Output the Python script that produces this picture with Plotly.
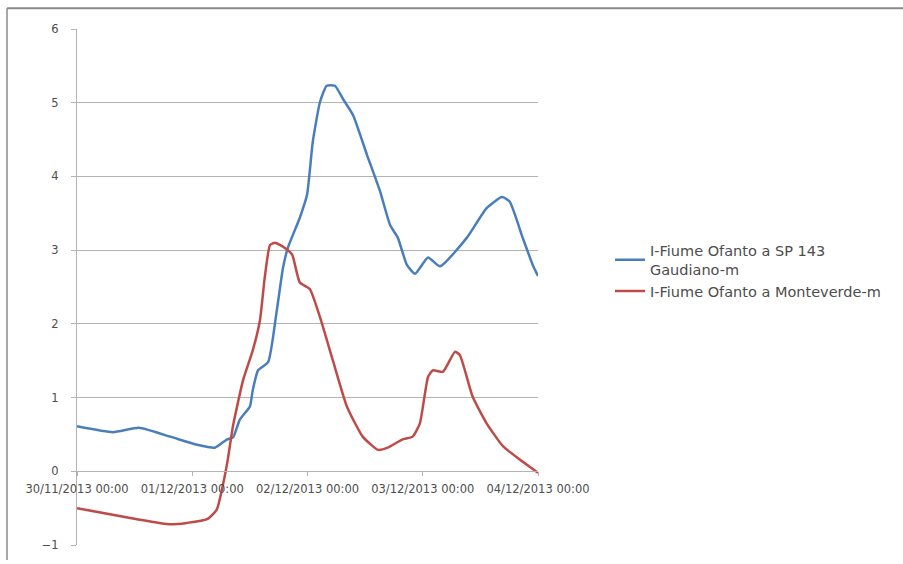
import plotly.graph_objects as go
import pandas as pd

# Hours from 30/11/2013 00:00 and water levels (m)
blue_hours = [0, 7.5, 12.9, 19.4, 25, 28.7, 31.2, 32.5, 33.9, 36, 36.6, 37.7, 39.8, 41.6, 42.9, 43.9,
              46.4, 47.9, 49.1, 50.6, 52, 53.7, 55.4, 57.5, 60.4, 63.1, 65.2, 66.8, 68.7, 70.4, 73.1,
              75.6, 81.2, 85.3, 88.5, 90.1, 92.8, 94.9, 96]
blue_vals = [0.61, 0.53, 0.59, 0.47, 0.36, 0.32, 0.43, 0.46, 0.70, 0.88, 1.10, 1.37, 1.48, 2.18, 2.76, 3.03,
             3.44, 3.75, 4.47, 5.01, 5.23, 5.23, 5.05, 4.83, 4.29, 3.80, 3.34, 3.17, 2.80, 2.68, 2.90,
             2.78, 3.17, 3.57, 3.72, 3.66, 3.17, 2.80, 2.65]

red_hours = [0, 12.5, 19.4, 22.9, 27.1, 29.1, 30.4, 31.4, 32.5, 34.6, 36.6, 38.1, 39.1, 40.2, 41.2, 43.3,
             44.8, 46.4, 48.5, 50.6, 53.3, 56.2, 59.5, 62.7, 64.7, 67.7, 69.9, 71.4, 73.1, 74.1, 76.2,
             78.7, 79.7, 82.4, 85.3, 88.7, 92.2, 96]
red_vals = [-0.50, -0.65, -0.72, -0.70, -0.65, -0.52, -0.18, 0.16, 0.62, 1.24, 1.64, 2.05, 2.63, 3.07, 3.10, 3.03,
            2.94, 2.56, 2.47, 2.09, 1.50, 0.88, 0.47, 0.29, 0.32, 0.43, 0.47, 0.65, 1.28, 1.37, 1.35,
            1.62, 1.58, 1.01, 0.65, 0.34, 0.16, -0.02]

series_names = ["I-Fiume Ofanto a SP 143<br>Gaudiano-m", "I-Fiume Ofanto a Monteverde-m"]
tick_dates = ["2013-11-30", "2013-12-01", "2013-12-02", "2013-12-03", "2013-12-04"]
tick_labels = ["30/11/2013 00:00", "01/12/2013 00:00", "02/12/2013 00:00", "03/12/2013 00:00", "04/12/2013 00:00"]
y_ticks = [-1, 0, 1, 2, 3, 4, 5, 6]

base = pd.Timestamp("2013-11-30 00:00")
bx = [base + pd.Timedelta(hours=h) for h in blue_hours]
rx = [base + pd.Timedelta(hours=h) for h in red_hours]

fig = go.Figure()
fig.add_trace(go.Scatter(x=bx, y=blue_vals, mode="lines", name=series_names[0],
                         line=dict(color="#4a7ebb", width=2.5, shape="spline", smoothing=0.5)))
fig.add_trace(go.Scatter(x=rx, y=red_vals, mode="lines", name=series_names[1],
                         line=dict(color="#be4b48", width=2.5, shape="spline", smoothing=0.5)))

W, H = 903, 564
L, R, T, B = 77, 538, 29, 549

def px_x(p):
    return (p - L) / (R - L)

def px_y(p):
    return (B - p) / (B - T)

gray = "#b3b3b3"
font = "DejaVu Sans, sans-serif"
txt = "#4d4d4d"

fig.update_layout(
    width=W, height=H,
    margin=dict(l=L, r=W - R, t=T, b=H - B, pad=0),
    paper_bgcolor="white", plot_bgcolor="white",
    font=dict(family=font, size=11.5, color=txt),
    showlegend=True,
    legend=dict(x=px_x(610), xanchor="left", y=px_y(236), yanchor="top",
                bgcolor="rgba(0,0,0,0)", font=dict(size=14.5, color=txt),
                itemwidth=30, tracegroupgap=1),
    xaxis=dict(
        type="date",
        range=[pd.Timestamp(tick_dates[0]), pd.Timestamp(tick_dates[-1])],
        tickmode="array", tickvals=tick_dates, ticktext=tick_labels,
        showgrid=False, zeroline=False,
        showline=True, linecolor=gray, linewidth=1,
        ticks="outside", ticklen=4, tickcolor=gray,
        anchor="free", position=1 / 7,
        tickfont=dict(size=11.5, color=txt),
        ticklabelstandoff=3,
    ),
    yaxis=dict(
        range=[-1, 6], tickmode="array", tickvals=y_ticks,
        showgrid=True, gridcolor=gray, gridwidth=1,
        zeroline=False, showline=True, linecolor=gray, linewidth=1,
        ticks="outside", ticklen=5, tickcolor=gray,
        tickfont=dict(size=11.5, color=txt),
        ticklabelstandoff=10,
    ),
    shapes=[
        dict(type="line", xref="paper", yref="paper", x0=px_x(7), x1=px_x(903), y0=px_y(8), y1=px_y(8),
             line=dict(color="#8a8a8a", width=2)),
        dict(type="line", xref="paper", yref="paper", x0=px_x(7), x1=px_x(7), y0=px_y(8), y1=px_y(564),
             line=dict(color="#8a8a8a", width=1.5)),
    ],
)

fig.write_html("out.html", config={"displayModeBar": False},
               post_script="document.body.style.margin='0';document.body.style.padding='0';")
